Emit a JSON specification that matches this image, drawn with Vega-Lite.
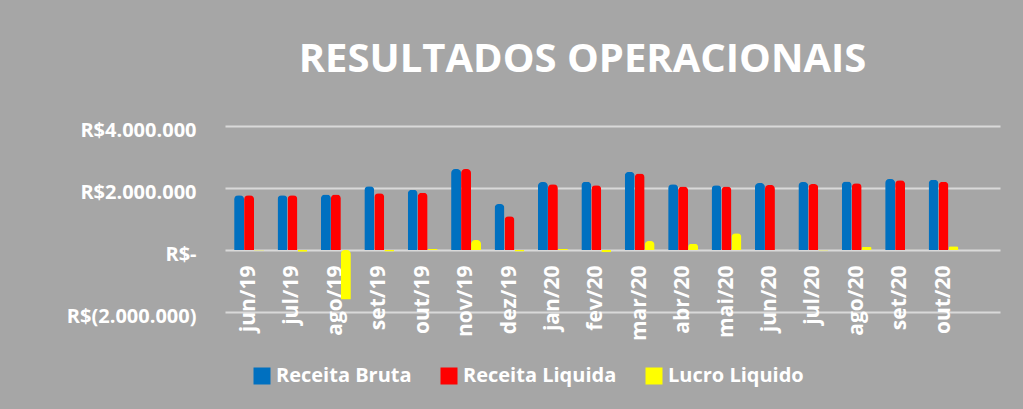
{
  "$schema": "https://vega.github.io/schema/vega-lite/v6.json",
  "autosize": {"type": "none"},
  "width": 775,
  "height": 186,
  "padding": {"left": 225, "top": 126, "right": 23, "bottom": 97},
  "background": "#A6A6A6",
  "title": {
    "text": "RESULTADOS OPERACIONAIS",
    "font": "Open Sans",
    "fontSize": 40,
    "fontWeight": "bold",
    "color": "#FFFFFF",
    "anchor": "middle",
    "dx": -30,
    "offset": 40
  },
  "data": {
    "values": [
      {"mes": "jun/19", "serie": "Receita Bruta", "valor": 1770000},
      {"mes": "jun/19", "serie": "Receita Liquida", "valor": 1770000},
      {"mes": "jun/19", "serie": "Lucro Liquido", "valor": -20000},
      {"mes": "jul/19", "serie": "Receita Bruta", "valor": 1770000},
      {"mes": "jul/19", "serie": "Receita Liquida", "valor": 1770000},
      {"mes": "jul/19", "serie": "Lucro Liquido", "valor": -60000},
      {"mes": "ago/19", "serie": "Receita Bruta", "valor": 1790000},
      {"mes": "ago/19", "serie": "Receita Liquida", "valor": 1790000},
      {"mes": "ago/19", "serie": "Lucro Liquido", "valor": -1600000},
      {"mes": "set/19", "serie": "Receita Bruta", "valor": 2060000},
      {"mes": "set/19", "serie": "Receita Liquida", "valor": 1830000},
      {"mes": "set/19", "serie": "Lucro Liquido", "valor": -50000},
      {"mes": "out/19", "serie": "Receita Bruta", "valor": 1940000},
      {"mes": "out/19", "serie": "Receita Liquida", "valor": 1850000},
      {"mes": "out/19", "serie": "Lucro Liquido", "valor": 30000},
      {"mes": "nov/19", "serie": "Receita Bruta", "valor": 2610000},
      {"mes": "nov/19", "serie": "Receita Liquida", "valor": 2610000},
      {"mes": "nov/19", "serie": "Lucro Liquido", "valor": 320000},
      {"mes": "dez/19", "serie": "Receita Bruta", "valor": 1480000},
      {"mes": "dez/19", "serie": "Receita Liquida", "valor": 1090000},
      {"mes": "dez/19", "serie": "Lucro Liquido", "valor": -50000},
      {"mes": "jan/20", "serie": "Receita Bruta", "valor": 2190000},
      {"mes": "jan/20", "serie": "Receita Liquida", "valor": 2120000},
      {"mes": "jan/20", "serie": "Lucro Liquido", "valor": 30000},
      {"mes": "fev/20", "serie": "Receita Bruta", "valor": 2200000},
      {"mes": "fev/20", "serie": "Receita Liquida", "valor": 2090000},
      {"mes": "fev/20", "serie": "Lucro Liquido", "valor": -70000},
      {"mes": "mar/20", "serie": "Receita Bruta", "valor": 2520000},
      {"mes": "mar/20", "serie": "Receita Liquida", "valor": 2470000},
      {"mes": "mar/20", "serie": "Lucro Liquido", "valor": 290000},
      {"mes": "abr/20", "serie": "Receita Bruta", "valor": 2120000},
      {"mes": "abr/20", "serie": "Receita Liquida", "valor": 2050000},
      {"mes": "abr/20", "serie": "Lucro Liquido", "valor": 200000},
      {"mes": "mai/20", "serie": "Receita Bruta", "valor": 2090000},
      {"mes": "mai/20", "serie": "Receita Liquida", "valor": 2050000},
      {"mes": "mai/20", "serie": "Lucro Liquido", "valor": 540000},
      {"mes": "jun/20", "serie": "Receita Bruta", "valor": 2160000},
      {"mes": "jun/20", "serie": "Receita Liquida", "valor": 2100000},
      {"mes": "jun/20", "serie": "Lucro Liquido", "valor": 10000},
      {"mes": "jul/20", "serie": "Receita Bruta", "valor": 2190000},
      {"mes": "jul/20", "serie": "Receita Liquida", "valor": 2130000},
      {"mes": "jul/20", "serie": "Lucro Liquido", "valor": -20000},
      {"mes": "ago/20", "serie": "Receita Bruta", "valor": 2210000},
      {"mes": "ago/20", "serie": "Receita Liquida", "valor": 2150000},
      {"mes": "ago/20", "serie": "Lucro Liquido", "valor": 100000},
      {"mes": "set/20", "serie": "Receita Bruta", "valor": 2290000},
      {"mes": "set/20", "serie": "Receita Liquida", "valor": 2250000},
      {"mes": "set/20", "serie": "Lucro Liquido", "valor": 10000},
      {"mes": "out/20", "serie": "Receita Bruta", "valor": 2270000},
      {"mes": "out/20", "serie": "Receita Liquida", "valor": 2200000},
      {"mes": "out/20", "serie": "Lucro Liquido", "valor": 120000}
    ]
  },
  "mark": {"type": "bar", "cornerRadiusEnd": 4},
  "encoding": {
    "x": {
      "field": "mes",
      "type": "nominal",
      "sort": ["jun/19","jul/19","ago/19","set/19","out/19","nov/19","dez/19","jan/20","fev/20","mar/20","abr/20","mai/20","jun/20","jul/20","ago/20","set/20","out/20"],
      "scale": {"paddingInner": 0.31, "paddingOuter": 0.583, "align": 0.18},
      "axis": {
        "title": null,
        "orient": "bottom",
        "offset": -62,
        "domain": false,
        "ticks": false,
        "grid": false,
        "labelAngle": -90,
        "labelPadding": 15,
        "labelFont": "Open Sans",
        "labelFontSize": 21,
        "labelFontWeight": "bold",
        "labelColor": "#FFFFFF"
      }
    },
    "xOffset": {
      "field": "serie",
      "type": "nominal",
      "sort": ["Receita Bruta", "Receita Liquida", "Lucro Liquido"],
      "scale": {"paddingInner": 0, "paddingOuter": 0}
    },
    "y": {
      "field": "valor",
      "type": "quantitative",
      "scale": {"domain": [-2000000, 4000000], "nice": false, "zero": true},
      "axis": {
        "title": null,
        "values": [-2000000, 0, 2000000, 4000000],
        "domain": false,
        "ticks": false,
        "grid": true,
        "gridColor": "#D9D9D9",
        "gridWidth": 2,
        "labelPadding": 29,
        "labelOffset": 4,
        "labelFont": "Open Sans",
        "labelFontSize": 20,
        "labelFontWeight": "bold",
        "labelColor": "#FFFFFF",
        "labelExpr": "datum.value == 0 ? 'R$-' : datum.value == 2000000 ? 'R$2.000.000' : datum.value == 4000000 ? 'R$4.000.000' : 'R$(2.000.000)'"
      }
    },
    "color": {
      "field": "serie",
      "type": "nominal",
      "sort": ["Receita Bruta", "Receita Liquida", "Lucro Liquido"],
      "scale": {"domain": ["Receita Bruta", "Receita Liquida", "Lucro Liquido"], "range": ["#0070C0", "#FF0000", "#FFFF00"]},
      "legend": {
        "title": null,
        "orient": "none",
        "direction": "horizontal",
        "legendX": 27,
        "legendY": 240,
        "symbolType": "square",
        "symbolSize": 289,
        "symbolStrokeWidth": 0,
        "symbolOpacity": 1,
        "labelFont": "Open Sans",
        "labelFontSize": 20,
        "labelFontWeight": "bold",
        "labelColor": "#FFFFFF",
        "labelOffset": 4,
        "labelLimit": 300,
        "columnPadding": 27
      }
    }
  },
  "config": {"view": {"stroke": null}}
}
